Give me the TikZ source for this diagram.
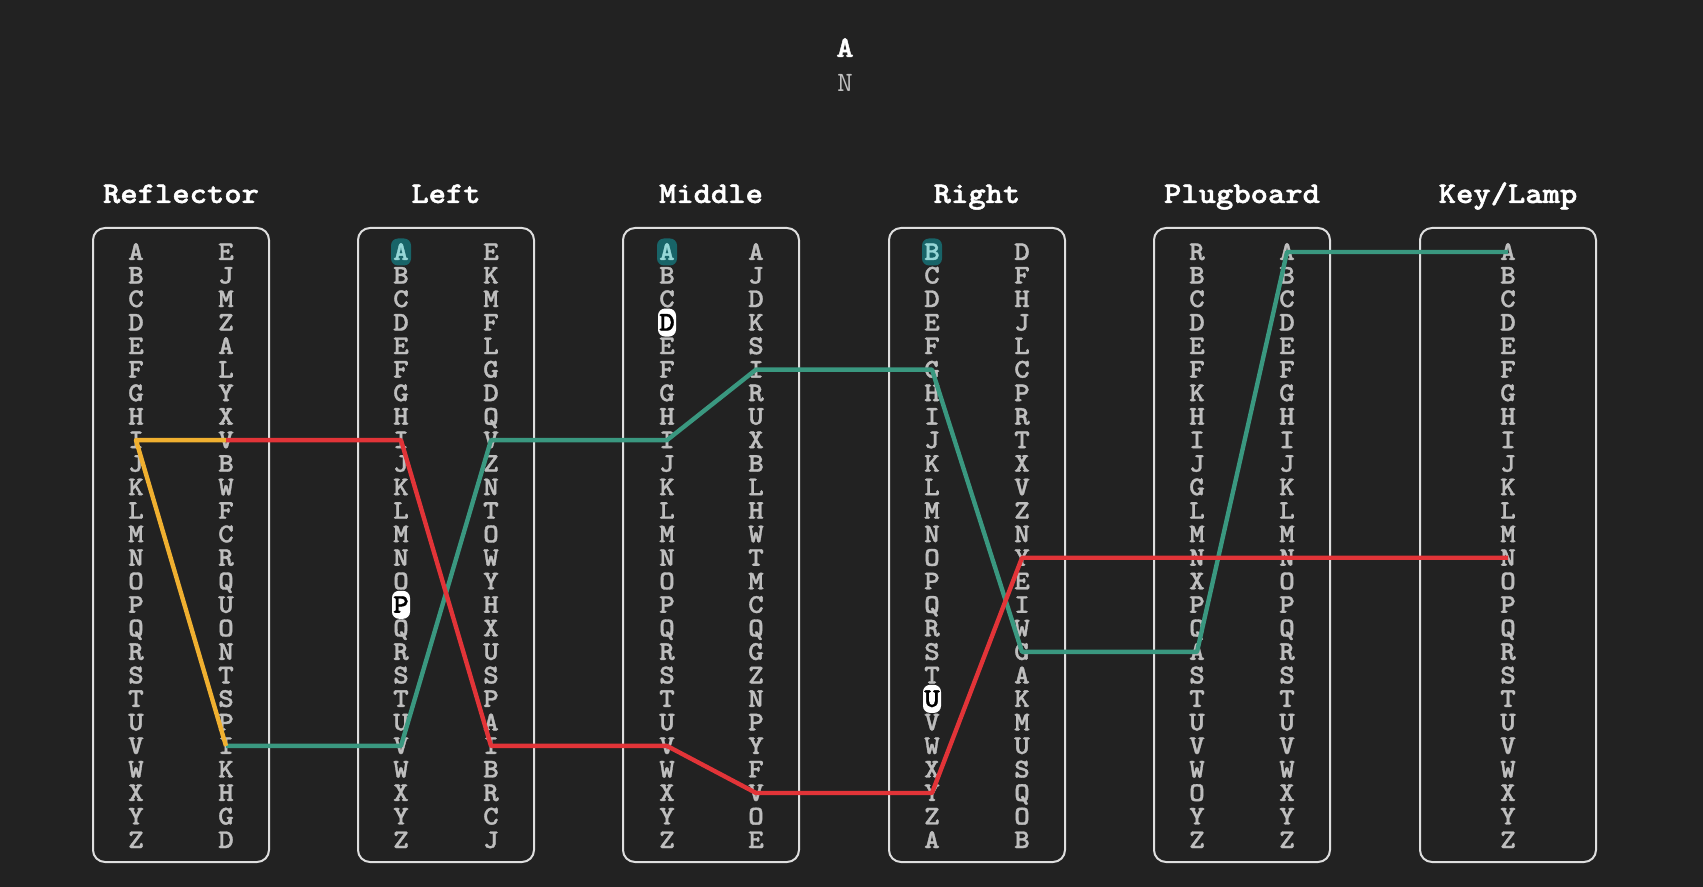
\documentclass[tikz,border=0pt]{standalone}
\usepackage{tikz}
\usepackage{fontspec}
\newfontfamily\rotorfont{lmmonolt10-bold.otf}[FakeBold=1.2, FakeStretch=1.1]
\newfontfamily\titlefont{lmmonolt10-bold.otf}[FakeBold=1.6, FakeStretch=1.1]
\newfontfamily\thinfont{lmmono10-regular.otf}[FakeStretch=1.05]

\definecolor{bgdark}{RGB}{34,34,34}
\definecolor{framegray}{RGB}{222,222,222}
\definecolor{lettergray}{RGB}{190,190,190}
\definecolor{wiregreen}{RGB}{58,152,128}
\definecolor{wirered}{RGB}{226,52,56}
\definecolor{wireyellow}{RGB}{240,176,48}
\definecolor{hlteal}{RGB}{24,100,104}
\definecolor{hltext}{RGB}{150,215,215}

% 一列字母：#1 名称前缀, #2 x 坐标, #3 字母序列
\newcommand{\lettercol}[3]{%
  \foreach \ch [count=\r from 0] in {#3} {
    \node[letter, hl/#1-\r/.try] (#1-\r) at (#2, \rowtop+\rowgap*\r) {\ch};
  }%
}
% 外框和标题：#1 名称前缀, #2 中心 x, #3 标题
\newcommand{\drawbox}[3]{%
  \node[framebox] (#1-box) at (#2, 545) {};
  \node[title] (#1-title) at (#2, 203) {#3};
}

\tikzset{
  framebox/.style={draw=framegray, line width=1pt, rounded corners=6pt,
    minimum width=88pt, minimum height=317pt, inner sep=0pt},
  title/.style={anchor=base, inner sep=0pt, text=white,
    font=\titlefont\fontsize{15}{15}\selectfont},
  letter/.style={text=lettergray, inner sep=0pt, text height=8pt, text depth=0pt,
    font=\rotorfont\fontsize{13.5}{13.5}\selectfont},
  tealmark/.style={fill=hlteal, text=hltext, rounded corners=3.5pt,
    minimum width=10pt, minimum height=13.5pt},
  whitemark/.style={fill=white, text=black, rounded corners=3.5pt,
    minimum width=9pt, minimum height=14pt},
  wire/.style={draw=#1, line width=2.2pt, line join=round},
  % 高亮的字母
  hl/left-l-0/.style={tealmark},
  hl/mid-l-0/.style={tealmark},
  hl/right-l-0/.style={tealmark},
  hl/left-l-15/.style={whitemark},
  hl/mid-l-3/.style={whitemark},
  hl/right-l-19/.style={whitemark},
}

\begin{document}
\begin{tikzpicture}[
    x=0.5pt, y={(0pt,-0.5pt)} % 像素坐标, y 向下
    ]
    % --- 定义行位置 ---
    \def\rowtop{252} \def\rowgap{23.52}

    % 1. 背景
    \fill[bgdark] (0,0) rectangle (1703,887);

    % 2. 顶部的输入和输出
    \node[title] (key-in) at (845,57) {A};
    \node[text=lettergray, font=\thinfont\fontsize{14}{14}\selectfont] (lamp-out) at (845,83) {N};

    % 3. 六个外框
    \drawbox{ref}{181}{Reflector}
    \drawbox{left}{446}{Left}
    \drawbox{mid}{711}{Middle}
    \drawbox{right}{977}{Right}
    \drawbox{plug}{1242}{Plugboard}
    \drawbox{lamp}{1508}{Key/Lamp}

    % 4. 字母列
    \lettercol{ref-l}{136}{A,B,C,D,E,F,G,H,I,J,K,L,M,N,O,P,Q,R,S,T,U,V,W,X,Y,Z}
    \lettercol{ref-r}{226}{E,J,M,Z,A,L,Y,X,V,B,W,F,C,R,Q,U,O,N,T,S,P,I,K,H,G,D}
    \lettercol{left-l}{401}{A,B,C,D,E,F,G,H,I,J,K,L,M,N,O,P,Q,R,S,T,U,V,W,X,Y,Z}
    \lettercol{left-r}{491}{E,K,M,F,L,G,D,Q,V,Z,N,T,O,W,Y,H,X,U,S,P,A,I,B,R,C,J}
    \lettercol{mid-l}{667}{A,B,C,D,E,F,G,H,I,J,K,L,M,N,O,P,Q,R,S,T,U,V,W,X,Y,Z}
    \lettercol{mid-r}{756}{A,J,D,K,S,I,R,U,X,B,L,H,W,T,M,C,Q,G,Z,N,P,Y,F,V,O,E}
    \lettercol{right-l}{932}{B,C,D,E,F,G,H,I,J,K,L,M,N,O,P,Q,R,S,T,U,V,W,X,Y,Z,A}
    \lettercol{right-r}{1022}{D,F,H,J,L,C,P,R,T,X,V,Z,N,Y,E,I,W,G,A,K,M,U,S,Q,O,B}
    \lettercol{plug-l}{1197}{R,B,C,D,E,F,K,H,I,J,G,L,M,N,X,P,Q,A,S,T,U,V,W,O,Y,Z}
    \lettercol{plug-r}{1287}{A,B,C,D,E,F,G,H,I,J,K,L,M,N,O,P,Q,R,S,T,U,V,W,X,Y,Z}
    \lettercol{lamp}{1508}{A,B,C,D,E,F,G,H,I,J,K,L,M,N,O,P,Q,R,S,T,U,V,W,X,Y,Z}

    % 5. 信号路径
    % a) 去程 (绿色)
    \draw[wire=wiregreen] (lamp-0.center) -- (plug-r-0.center) -- (plug-l-17.center)
        -- (right-r-17.center) -- (right-l-5.center) -- (mid-r-5.center)
        -- (mid-l-8.center) -- (left-r-8.center) -- (left-l-21.center) -- (ref-r-21.center);
    % b) 反射器 (黄色)
    \draw[wire=wireyellow] (ref-r-21.center) -- (ref-l-8.center) -- (ref-r-8.center);
    % c) 回程 (红色)
    \draw[wire=wirered] (ref-r-8.center) -- (left-l-8.center) -- (left-r-21.center)
        -- (mid-l-21.center) -- (mid-r-23.center) -- (right-l-23.center)
        -- (right-r-13.center) -- (plug-l-13.center) -- (plug-r-13.center) -- (lamp-13.center);

\end{tikzpicture}
\end{document}
